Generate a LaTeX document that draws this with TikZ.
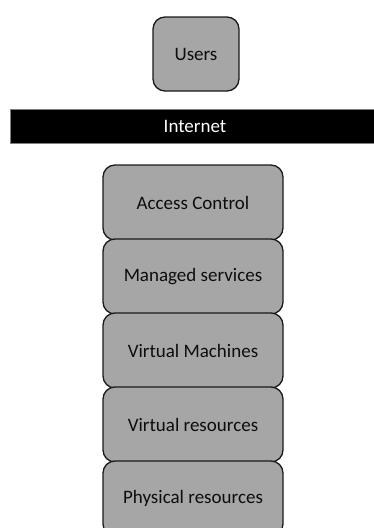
\documentclass[tikz,border=0pt]{standalone}
\usepackage{fontspec}
\setmainfont{Carlito}
\definecolor{boxfill}{HTML}{A6A6A6}
\definecolor{boxline}{HTML}{1A1A1A}
\definecolor{txt}{HTML}{0D0D0D}
\definecolor{barline}{HTML}{7F7F7F}
\tikzset{
  layer/.style={draw=boxline, fill=boxfill, line width=1.3pt, rounded corners=12pt,
    minimum width=180pt, minimum height=75pt, text=txt, font=\fontsize{19}{22}\selectfont, inner sep=0pt},
  userbox/.style={layer, minimum width=86pt, minimum height=74pt},
  bar/.style={draw=barline, fill=black, line width=0.8pt, minimum width=366pt, minimum height=34pt,
    text=white, font=\fontsize{19}{22}\selectfont, inner sep=0pt}
}
\begin{document}
\begin{tikzpicture}[x=1pt,y=-1pt]
\useasboundingbox (0,0) rectangle (374,528);
\clip (0,0) rectangle (374,528);
\node[userbox] (users) at (196,54) {Users};
\node[bar] (internet) at (193,126) {};
\node[text=white, font=\fontsize{19}{22}\selectfont] (itext) at (195,126) {Internet};
\node[layer] (ac) at (193,202.5) {Access Control};
\node[layer] (ms) at (193,276.5) {Managed services};
\node[layer] (vm) at (193,350.5) {Virtual Machines};
\node[layer] (vr) at (193,424.5) {Virtual resources};
\node[layer] (pr) at (193,498.5) {Physical resources};
\end{tikzpicture}
\end{document}
